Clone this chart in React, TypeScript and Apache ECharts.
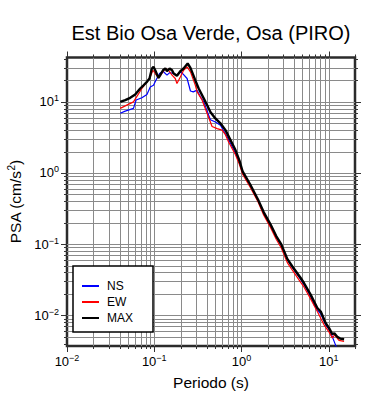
import React, { useEffect, useRef } from 'react';
import * as echarts from 'echarts';

const FONT = '"Liberation Sans", Arial, Helvetica, sans-serif';

// NS component (blue)
const nsPeriod = [0.0407, 0.0465, 0.0578, 0.062, 0.0722, 0.0824, 0.09, 0.098, 0.107, 0.115, 0.126, 0.14, 0.15, 0.167, 0.182, 0.199, 0.217, 0.238, 0.26, 0.28, 0.31, 0.338, 0.369, 0.44, 0.502, 0.574, 0.685, 0.853, 0.95, 1.03, 1.25, 1.55, 1.8, 2.15, 2.5, 2.85, 3.35, 3.83, 4.77, 5.2, 6.2, 6.8, 7.4, 8.1, 9.2, 10.1, 11.0, 11.8, 12.3];
const nsPsa = [6.9, 7.4, 8.1, 10.6, 11.4, 12.7, 16.2, 17.1, 21.3, 25, 26.9, 23.7, 25.8, 25, 23.7, 26.4, 24.2, 21.3, 14.2, 13.8, 14.6, 11.8, 10.0, 5.6, 5.2, 4.7, 3.2, 1.9, 1.38, 1.0, 0.68, 0.41, 0.27, 0.183, 0.125, 0.097, 0.061, 0.047, 0.032, 0.027, 0.0185, 0.014, 0.0118, 0.0105, 0.0074, 0.0063, 0.005, 0.004, 0.0035];

// EW component (red)
const ewPeriod = [0.0407, 0.0485, 0.0578, 0.0722, 0.0824, 0.0883, 0.0966, 0.1026, 0.112, 0.126, 0.134, 0.146, 0.16, 0.174, 0.182, 0.199, 0.217, 0.238, 0.26, 0.296, 0.31, 0.353, 0.403, 0.46, 0.526, 0.6, 0.65, 0.714, 0.853, 0.95, 1.03, 1.25, 1.55, 1.8, 2.15, 2.5, 2.85, 3.35, 3.83, 4.77, 5.2, 6.2, 7.4, 8.8, 10.1, 11.0, 11.7, 13.1, 15.0];
const ewPsa = [8.1, 9.0, 10.0, 15.4, 19.1, 21.3, 27.8, 25, 21.7, 26.4, 29.4, 27.8, 23.7, 21.3, 18.1, 22.4, 27.8, 31, 26.4, 17.1, 13.8, 10.6, 6.9, 4.5, 4.2, 4.0, 3.5, 2.7, 1.8, 1.3, 0.96, 0.64, 0.39, 0.255, 0.172, 0.117, 0.089, 0.055, 0.043, 0.029, 0.025, 0.017, 0.0113, 0.0074, 0.0058, 0.0048, 0.0053, 0.00445, 0.0043];

// MAX (black)
const maxPeriod = [0.0407, 0.0465, 0.053, 0.0605, 0.069, 0.0754, 0.0824, 0.0883, 0.094, 0.098, 0.1026, 0.112, 0.117, 0.126, 0.134, 0.14, 0.15, 0.16, 0.167, 0.182, 0.199, 0.217, 0.2415, 0.26, 0.296, 0.323, 0.369, 0.403, 0.44, 0.502, 0.574, 0.655, 0.748, 0.853, 0.95, 1.03, 1.25, 1.55, 1.8, 2.15, 2.5, 2.85, 3.35, 3.83, 4.77, 5.2, 6.2, 7.4, 8.1, 9.2, 10.1, 11.0, 11.6, 12.5, 13.5, 15.0];
const maxPsa = [10, 10.6, 11.4, 12.7, 15.4, 17.1, 19.1, 21.3, 29.4, 31, 27.8, 21.7, 23.7, 27.8, 29.6, 26.9, 29.4, 27.8, 25, 23.2, 26.9, 29.4, 34.6, 30, 20, 15.4, 11.2, 9.0, 7.2, 5.85, 5.0, 4.0, 2.9, 2.1, 1.48, 1.05, 0.7, 0.42, 0.28, 0.19, 0.13, 0.1, 0.062, 0.0485, 0.0334, 0.0284, 0.0195, 0.01265, 0.0113, 0.0078, 0.0066, 0.0054, 0.0056, 0.005, 0.0047, 0.0046];

// Axis extents and grid/tick positions
const xRange = [0.01, 20];
const yRange = [0.0037, 42];
const xGridValues = [0.01, 0.02, 0.03, 0.04, 0.05, 0.06, 0.07, 0.08, 0.09, 0.1, 0.2, 0.3, 0.4, 0.5, 0.6, 0.7, 0.8, 0.9, 1, 2, 3, 4, 5, 6, 7, 8, 9, 10, 20];
const yGridValues = [0.004, 0.005, 0.006, 0.007, 0.008, 0.009, 0.01, 0.02, 0.03, 0.04, 0.05, 0.06, 0.07, 0.08, 0.09, 0.1, 0.2, 0.3, 0.4, 0.5, 0.6, 0.7, 0.8, 0.9, 1, 2, 3, 4, 5, 6, 7, 8, 9, 10, 20, 30, 40];

const seriesNames = ['NS', 'EW', 'MAX'];
const titleText = 'Est Bio Osa Verde, Osa (PIRO)';
const xName = 'Periodo (s)';

const isPow10 = (v: number) => {
  const lg = Math.log10(v);
  return Math.abs(lg - Math.round(lg)) < 1e-6;
};

const powLabel = (v: number) => {
  if (!isPow10(v)) return '';
  const e = Math.round(Math.log10(v));
  const es = e < 0 ? '\u2212' + String(-e) : String(e);
  return `{b|10}{s|${es}}`;
};

const labelRich = {
  b: { fontSize: 13, lineHeight: 16, fontFamily: FONT, color: '#000' },
  s: { fontSize: 9, lineHeight: 9, verticalAlign: 'top', fontFamily: FONT, color: '#000' },
};

const GRID_COLOR = '#8a8a8a';
const TICK_COLOR = '#333';

export default function App() {
  const ref = useRef<HTMLDivElement>(null);

  useEffect(() => {
    if (!ref.current) return;
    const chart = echarts.init(ref.current, null, { renderer: 'svg' });

    const vertRender = (params: any, api: any) => {
      const v = api.value(0);
      const cs = params.coordSys;
      const px = Math.round(api.coord([v, 1])[0]) + 0.5;
      const top = cs.y;
      const bottom = cs.y + cs.height;
      const len = isPow10(v) ? 6 : 3;
      const children: any[] = [];
      if (px > cs.x + 2 && px < cs.x + cs.width - 2) {
        children.push({ type: 'line', shape: { x1: px, y1: top, x2: px, y2: bottom }, style: { stroke: GRID_COLOR, lineWidth: 1 } });
      }
      children.push({ type: 'line', shape: { x1: px, y1: bottom, x2: px, y2: bottom + len }, style: { stroke: TICK_COLOR, lineWidth: 1 } });
      children.push({ type: 'line', shape: { x1: px, y1: top, x2: px, y2: top - len }, style: { stroke: TICK_COLOR, lineWidth: 1 } });
      return { type: 'group', children };
    };

    const horRender = (params: any, api: any) => {
      const v = api.value(1);
      const cs = params.coordSys;
      const py = Math.round(api.coord([1, v])[1]) + 0.5;
      const left = cs.x;
      const right = cs.x + cs.width;
      const len = isPow10(v) ? 6 : 3;
      const children: any[] = [];
      if (py > cs.y + 2 && py < cs.y + cs.height - 2) {
        children.push({ type: 'line', shape: { x1: left, y1: py, x2: right, y2: py }, style: { stroke: GRID_COLOR, lineWidth: 1 } });
      }
      children.push({ type: 'line', shape: { x1: left, y1: py, x2: left - len, y2: py }, style: { stroke: TICK_COLOR, lineWidth: 1 } });
      children.push({ type: 'line', shape: { x1: right, y1: py, x2: right + len, y2: py }, style: { stroke: TICK_COLOR, lineWidth: 1 } });
      return { type: 'group', children };
    };

    const option: any = {
      animation: false,
      backgroundColor: '#fff',
      textStyle: { fontFamily: FONT },
      graphic: [
        {
          type: 'text',
          x: 211,
          y: 33,
          style: { text: titleText, fontSize: 20, fontFamily: FONT, fill: '#000', align: 'center', verticalAlign: 'middle' },
        },
      ],
      grid: {
        left: 67,
        right: 35,
        top: 57.5,
        bottom: 54,
        containLabel: false,
        outerBoundsMode: 'none',
        show: true,
        borderColor: '#2b2b2b',
        borderWidth: 2.5,
        backgroundColor: 'transparent',
      },
      legend: {
        orient: 'vertical',
        left: 73,
        top: 266,
        data: seriesNames,
        backgroundColor: '#fff',
        borderColor: '#000',
        borderWidth: 1.5,
        borderRadius: 0,
        padding: [14, 20, 8, 8],
        itemWidth: 17,
        itemHeight: 14,
        itemGap: 4,
        itemStyle: { opacity: 0 },
        textStyle: { fontSize: 12, color: '#000', fontFamily: FONT, padding: [0, 0, 0, 3] },
        selectedMode: false,
      },
      xAxis: {
        type: 'log',
        logBase: 10,
        min: xRange[0],
        max: xRange[1],
        name: xName,
        nameLocation: 'middle',
        nameGap: 28,
        nameTextStyle: { fontSize: 15.5, color: '#000', fontFamily: FONT },
        axisLine: { show: false },
        axisTick: { show: false },
        splitLine: { show: false },
        minorTick: { show: false },
        minorSplitLine: { show: false },
        axisLabel: {
          show: true,
          margin: 7,
          showMinLabel: true,
          formatter: (v: number) => powLabel(v),
          rich: labelRich,
        },
      },
      yAxis: {
        type: 'log',
        logBase: 10,
        min: yRange[0],
        max: yRange[1],
        name: '{a|PSA (cm/s}{s|2}{a|)}',
        nameLocation: 'middle',
        nameGap: 40,
        nameRotate: 90,
        nameTextStyle: {
          rich: {
            a: { fontSize: 15.5, lineHeight: 18, fontFamily: FONT, color: '#000' },
            s: { fontSize: 10, lineHeight: 10, verticalAlign: 'top', fontFamily: FONT, color: '#000' },
          },
        },
        axisLine: { show: false },
        axisTick: { show: false },
        splitLine: { show: false },
        minorTick: { show: false },
        minorSplitLine: { show: false },
        axisLabel: {
          show: true,
          margin: 8,
          formatter: (v: number) => powLabel(v),
          rich: labelRich,
        },
      },
      series: [
        {
          type: 'custom',
          name: 'xgrid',
          silent: true,
          clip: false,
          z: 1,
          renderItem: vertRender,
          data: xGridValues.map((v) => [v, 1]),
        },
        {
          type: 'custom',
          name: 'ygrid',
          silent: true,
          clip: false,
          z: 1,
          renderItem: horRender,
          data: yGridValues.map((v) => [1, v]),
        },
        {
          type: 'line',
          name: seriesNames[0],
          data: nsPeriod.map((t, i) => [t, nsPsa[i]]),
          symbol: 'none',
          color: '#0000ff',
          lineStyle: { color: '#0000ff', width: 1.2 },
          clip: true,
          z: 3,
        },
        {
          type: 'line',
          name: seriesNames[1],
          data: ewPeriod.map((t, i) => [t, ewPsa[i]]),
          symbol: 'none',
          color: '#ff0000',
          lineStyle: { color: '#ff0000', width: 1.2 },
          clip: true,
          z: 4,
        },
        {
          type: 'line',
          name: seriesNames[2],
          data: maxPeriod.map((t, i) => [t, maxPsa[i]]),
          symbol: 'none',
          color: '#000000',
          lineStyle: { color: '#000000', width: 2.4 },
          clip: true,
          z: 5,
        },
      ],
    };

    chart.setOption(option);
    return () => chart.dispose();
  }, []);

  return <div ref={ref} style={{ position: 'fixed', left: 0, top: 0, width: 390, height: 400 }} />;
}
